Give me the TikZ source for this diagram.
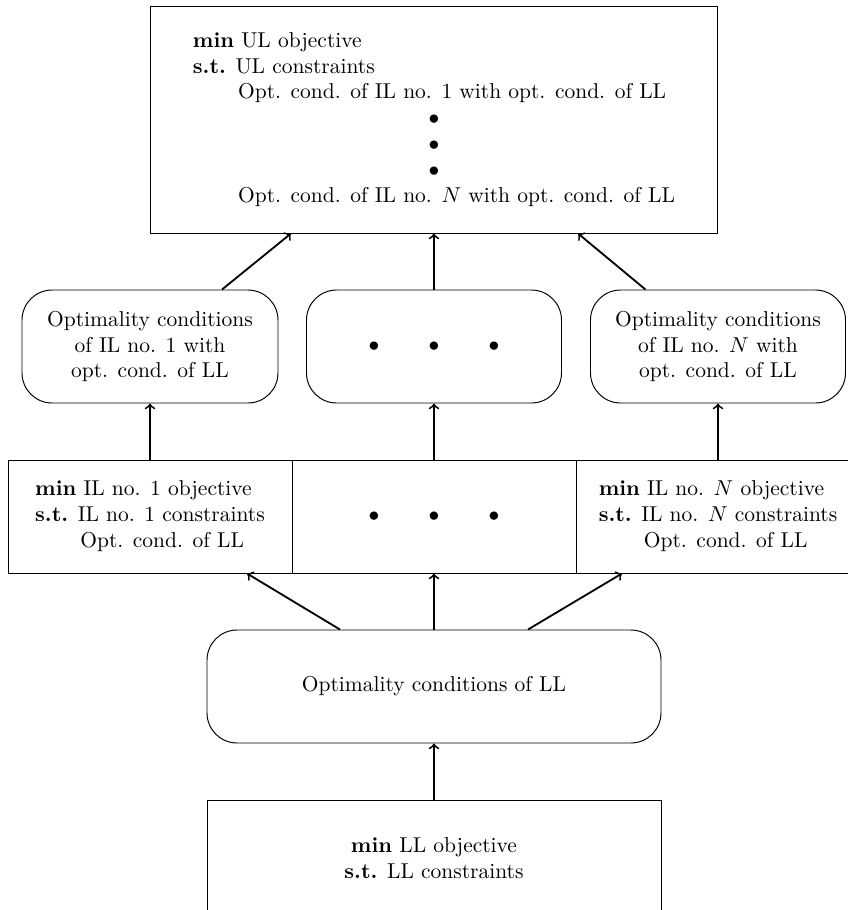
\documentclass[tikz,border=0pt]{standalone}
\begin{document}
\def\u{0.465pt}
\begin{tikzpicture}[x=\u,y=-\u,
  box/.style={draw,line width=0.45pt,inner sep=0pt,minimum height=113*\u},
  roundbox/.style={box,rounded corners=14pt},
  arr/.style={->,line width=0.85pt}]
\useasboundingbox (0,0) rectangle (848,910);
\clip (0,0) rectangle (848,910);

% upper level problem
\node[box,minimum width=567*\u,minimum height=227*\u] (top) at (434,119.5)
  {\begin{tabular}{@{}l@{}}
   \textbf{min} UL objective\\
   \textbf{s.t.} UL constraints\\
   \hspace{21pt}Opt. cond. of IL no. 1 with opt. cond. of LL\\
   \multicolumn{1}{c}{$\bullet$}\\
   \multicolumn{1}{c}{$\bullet$}\\
   \multicolumn{1}{c}{$\bullet$}\\
   \hspace{21pt}Opt. cond. of IL no. $N$ with opt. cond. of LL
   \end{tabular}};

% optimality conditions of the intermediate levels
\node[roundbox,minimum width=256*\u,align=center] (r1) at (150,346.5)
  {Optimality conditions\\ of IL no. 1 with\\ opt. cond. of LL};
\node[roundbox,minimum width=255*\u] (r2) at (434,346.5)
  {$\bullet$\hspace{22.9pt}$\bullet$\hspace{22.9pt}$\bullet$};
\node[roundbox,minimum width=255*\u,align=center] (r3) at (718,346.5)
  {Optimality conditions\\ of IL no. $N$ with\\ opt. cond. of LL};

% intermediate level problems
\node[box,minimum width=284*\u] (i1) at (150,516.5)
  {\begin{tabular}{@{}l@{}}
   \textbf{min} IL no. 1 objective\\
   \textbf{s.t.} IL no. 1 constraints\\
   \hspace{21pt}Opt. cond. of LL
   \end{tabular}};
\node[box,minimum width=284*\u] (i2) at (434,516.5)
  {$\bullet$\hspace{22.9pt}$\bullet$\hspace{22.9pt}$\bullet$};
\node[box,minimum width=284*\u] (i3) at (718,516.5)
  {\begin{tabular}{@{}l@{}}
   \textbf{min} IL no. $N$ objective\\
   \textbf{s.t.} IL no. $N$ constraints\\
   \hspace{21pt}Opt. cond. of LL
   \end{tabular}};

% lower level
\node[roundbox,minimum width=454*\u] (ll) at (434,686.5)
  {Optimality conditions of LL};
\node[box,minimum width=454*\u,minimum height=116*\u,align=center] (bot) at (434,858)
  {\textbf{min} LL objective\\ \textbf{s.t.} LL constraints};

% connectors
\draw[arr] (bot.north) -- (ll.south);
\draw[arr] ([xshift=-94*\u]ll.north) -- ([xshift=97*\u]i1.south);
\draw[arr] (ll.north) -- (i2.south);
\draw[arr] ([xshift=94*\u]ll.north) -- ([xshift=-96*\u]i3.south);
\draw[arr] (i1.north) -- (r1.south);
\draw[arr] (i2.north) -- (r2.south);
\draw[arr] (i3.north) -- (r3.south);
\draw[arr] ([xshift=72*\u]r1.north) -- ([xshift=-143*\u]top.south);
\draw[arr] (r2.north) -- (top.south);
\draw[arr] ([xshift=-72.5*\u]r3.north) -- ([xshift=144*\u]top.south);
\end{tikzpicture}
\end{document}
